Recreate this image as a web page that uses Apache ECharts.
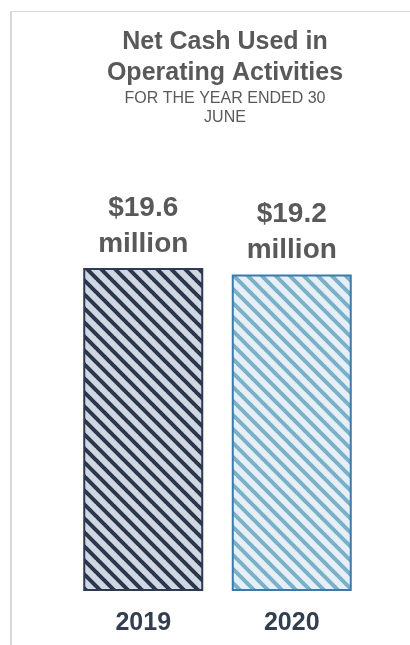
<!DOCTYPE html>
<html>
<head>
<meta charset="utf-8">
<script src="https://cdn.jsdelivr.net/npm/echarts@6/dist/echarts.min.js"></script>
<style>
html,body{margin:0;padding:0;background:#fff;}
#chart{width:410px;height:645px;}
</style>
</head>
<body>
<div id="chart"></div>
<script>
// ---- data ----
const categories = ['2019', '2020'];
const values = [19.6, 19.2];
const titleLines = ['Net Cash Used in', 'Operating Activities'];
const subtitleLines = ['FOR THE YEAR ENDED 30', 'JUNE'];
const unitText = 'million';

// ---- styles ----
function makePattern(bg, stripe, size, lw) {
  const c = document.createElement('canvas');
  c.width = size; c.height = size;
  const ctx = c.getContext('2d');
  ctx.fillStyle = bg;
  ctx.fillRect(0, 0, size, size);
  ctx.strokeStyle = stripe;
  ctx.lineWidth = lw;
  ctx.beginPath();
  for (let k = -1; k <= 1; k++) {
    ctx.moveTo(k * size - 1, -1);
    ctx.lineTo(k * size + size + 1, size + 1);
  }
  ctx.stroke();
  return c;
}
const barStyles = [
  { color: { image: makePattern('#d0d7e3', '#2b374c', 14, 4), repeat: 'repeat' }, borderColor: '#2d3a4f', borderWidth: 2 },
  { color: { image: makePattern('#e5eff5', '#7ab1c9', 14, 4), repeat: 'repeat' }, borderColor: '#3b7aab', borderWidth: 2 }
];

const chart = echarts.init(document.getElementById('chart'), null, { renderer: 'canvas' });
const titleColor = '#595959';
const cx = 225;

const graphics = [
  { type: 'rect', shape: { x: 10, y: 11, width: 2, height: 640 }, style: { fill: '#d9d9d9' }, silent: true },
  { type: 'rect', shape: { x: 10, y: 11, width: 400, height: 1 }, style: { fill: '#d9d9d9' }, silent: true }
];
titleLines.forEach((t, i) => {
  graphics.push({ type: 'text', x: cx, y: 42 + i * 31, style: { text: t, fill: titleColor, font: 'bold 25px "Liberation Sans", Arial, sans-serif', textAlign: 'center', textVerticalAlign: 'middle' } });
});
subtitleLines.forEach((t, i) => {
  graphics.push({ type: 'text', x: cx, y: 99 + i * 19, style: { text: t, fill: titleColor, font: '16px "Liberation Sans", Arial, sans-serif', textAlign: 'center', textVerticalAlign: 'middle' } });
});

chart.setOption({
  animation: false,
  backgroundColor: '#ffffff',
  graphic: graphics,
  grid: { left: 69, right: 44, top: 268, bottom: 54 },
  xAxis: {
    type: 'category',
    data: categories,
    axisLine: { show: false },
    axisTick: { show: false },
    axisLabel: { color: '#333f50', fontWeight: 'bold', fontSize: 25, fontFamily: '"Liberation Sans", Arial, sans-serif', margin: 20 }
  },
  yAxis: { type: 'value', min: 0, max: 'dataMax', show: false, splitLine: { show: false } },
  series: [{
    type: 'bar',
    barWidth: 120,
    data: values.map((v, i) => ({ value: v, itemStyle: barStyles[i] })),
    label: {
      show: true,
      position: 'top',
      distance: 6,
      color: titleColor,
      fontWeight: 'bold',
      fontSize: 28,
      lineHeight: 36,
      fontFamily: '"Liberation Sans", Arial, sans-serif',
      formatter: p => '$' + p.value.toFixed(1) + '\n' + unitText
    }
  }]
});
</script>
</body>
</html>
